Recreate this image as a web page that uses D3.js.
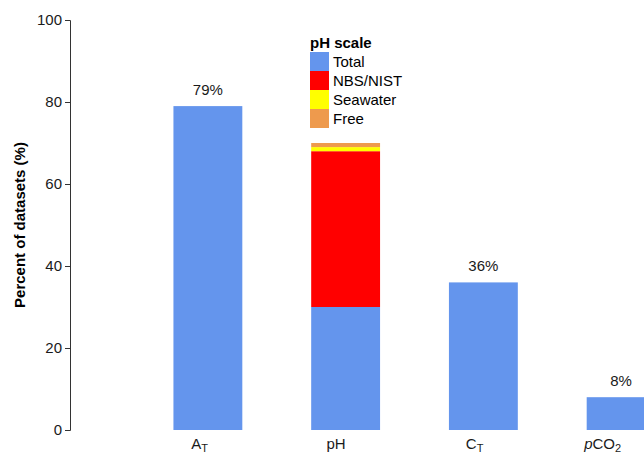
<!DOCTYPE html>
<html lang="en">
<head>
  <meta charset="UTF-8">
  <title>Percent of datasets</title>
  <script src="https://d3js.org/d3.v7.min.js"></script>
  <style>
    body { margin: 0; background: #fff; }
    svg { display: block; font-family: "Liberation Sans", Arial, sans-serif; }
  </style>
</head>
<body>
  <script>
    // data
    const categories = ["AT", "pH", "CT", "pCO2"];
    const totalValues = [79, 30, 36, 8];
    const nbsValues = [0, 38, 0, 0];
    const seawaterValues = [0, 1, 0, 0];
    const freeValues = [0, 1, 0, 0];
    const pctLabels = ["79%", null, "36%", "8%"];
    const scaleNames = ["Total", "NBS/NIST", "Seawater", "Free"];
    const scaleColors = ["#6495ED", "#FF0000", "#FFFF00", "#EE9A4D"];
    const yTicks = [0, 20, 40, 60, 80, 100];

    const W = 644, H = 454;
    const svg = d3.select("body").append("svg")
        .attr("width", W)
        .attr("height", H);

    const x = d3.scaleBand()
        .domain(categories)
        .range([139, 690])
        .paddingInner(0.5)
        .paddingOuter(0.25);

    const y = d3.scaleLinear()
        .domain([0, 100])
        .range([430, 20]);

    // stack the pH scales
    const rows = categories.map((c, i) => ({
        cat: c,
        Total: totalValues[i],
        "NBS/NIST": nbsValues[i],
        Seawater: seawaterValues[i],
        Free: freeValues[i]
    }));
    const stacked = d3.stack().keys(scaleNames)(rows);
    const color = d3.scaleOrdinal().domain(scaleNames).range(scaleColors);

    svg.append("g")
      .selectAll("g")
      .data(stacked)
      .join("g")
        .attr("fill", d => color(d.key))
      .selectAll("rect")
      .data(d => d.filter(p => p[1] > p[0]))
      .join("rect")
        .attr("x", d => x(d.data.cat))
        .attr("y", d => y(d[1]))
        .attr("width", x.bandwidth())
        .attr("height", d => y(d[0]) - y(d[1]));

    // percent labels
    svg.append("g")
      .selectAll("text")
      .data(categories.map((c, i) => ({ c, v: totalValues[i], t: pctLabels[i] })).filter(d => d.t))
      .join("text")
        .attr("x", d => x(d.c) + x.bandwidth() / 2)
        .attr("y", d => y(d.v) - 11)
        .attr("text-anchor", "middle")
        .attr("font-size", 15)
        .attr("fill", "#1a1a1a")
        .text(d => d.t);

    // y axis
    const yAxis = svg.append("g")
        .attr("transform", "translate(70,0)")
        .call(d3.axisLeft(y).tickValues(yTicks).tickSize(5).tickPadding(3));
    yAxis.select(".domain").attr("stroke", "#333");
    yAxis.selectAll(".tick line").attr("stroke", "#333");
    yAxis.selectAll(".tick text")
        .attr("font-size", 15)
        .attr("font-family", "Liberation Sans, Arial, sans-serif")
        .attr("fill", "#1a1a1a");

    svg.append("text")
        .attr("transform", "translate(25,225) rotate(-90)")
        .attr("text-anchor", "middle")
        .attr("font-size", 15)
        .attr("font-weight", "bold")
        .attr("fill", "#000")
        .text("Percent of datasets (%)");

    // x labels (right aligned at bar centre)
    const xLab = svg.append("g")
      .selectAll("text")
      .data(categories)
      .join("text")
        .attr("x", d => x(d) + x.bandwidth() / 2)
        .attr("y", 449)
        .attr("text-anchor", "end")
        .attr("font-size", 15)
        .attr("fill", "#1a1a1a");

    xLab.each(function(d) {
      const t = d3.select(this);
      if (d === "AT" || d === "CT") {
        t.append("tspan").text(d[0]);
        t.append("tspan").attr("font-size", 11).attr("dy", 3).text("T");
      } else if (d === "pCO2") {
        t.append("tspan").attr("font-style", "italic").text("p");
        t.append("tspan").text("CO");
        t.append("tspan").attr("font-size", 11).attr("dy", 3).text("2");
      } else {
        t.text(d);
      }
    });

    // legend
    const legend = svg.append("g").attr("transform", "translate(310,33)");
    legend.append("text")
        .attr("x", 0)
        .attr("y", 15)
        .attr("font-size", 15)
        .attr("font-weight", "bold")
        .text("pH scale");
    const item = legend.selectAll("g.item")
      .data(scaleNames)
      .join("g")
        .attr("class", "item")
        .attr("transform", (d, i) => `translate(0,${19 + i * 19})`);
    item.append("rect")
        .attr("width", 19)
        .attr("height", 19)
        .attr("fill", d => color(d));
    item.append("text")
        .attr("x", 23)
        .attr("y", 15)
        .attr("font-size", 15)
        .attr("fill", "#000")
        .text(d => d);
  </script>
</body>
</html>
